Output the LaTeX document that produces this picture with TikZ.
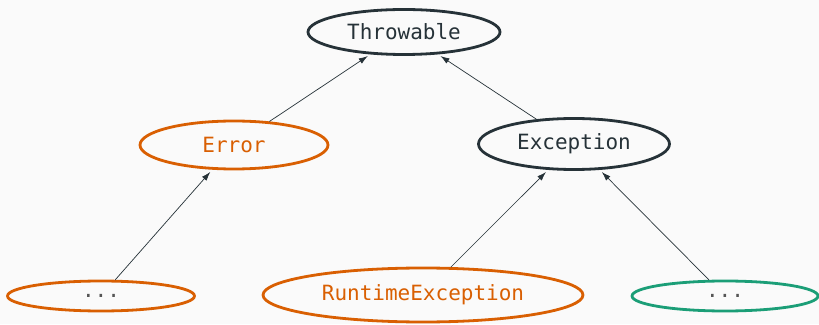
\documentclass[tikz,border=0pt]{standalone}
\usepackage{fontspec}
\setmonofont{DejaVu Sans Mono}
\usetikzlibrary{shapes.geometric,arrows.meta}
\definecolor{ink}{HTML}{263238}
\definecolor{rust}{HTML}{D95F02}
\definecolor{teal}{HTML}{1B9E77}
\definecolor{paper}{HTML}{FAFAFA}
\definecolor{dots}{HTML}{555555}

\begin{document}
\begin{tikzpicture}[x=1pt,y=1pt,line cap=round,line join=round,>={Latex[length=9pt,width=6pt]},
  cls/.style={ellipse,draw=ink,line width=2.8pt,text=ink,inner sep=0pt,font=\ttfamily\fontsize{21}{24}\selectfont},
  err/.style={cls,draw=rust,text=rust},
  other/.style={cls,draw=teal},
  link/.style={->,draw=ink,line width=0.7pt,shorten >=3pt}]
  \fill[paper] (0,0) rectangle (819,324);
  \useasboundingbox (0,0) rectangle (819,324);
  \node[cls,minimum width=192,minimum height=45] (throw) at (404,292) {Throwable};
  \node[err,minimum width=188,minimum height=48] (error) at (234,179) {Error};
  \node[cls,minimum width=191,minimum height=51] (except) at (574,180) {Exception};
  \node[err,minimum width=187,minimum height=30,text=dots] (moreerr) at (101,28) {...};
  \node[err,minimum width=320,minimum height=54] (runtime) at (423,29) {RuntimeException};
  \node[other,minimum width=186,minimum height=30,text=dots] (moreexc) at (725,28) {...};
  \draw[link] (error) -- (throw);
  \draw[link] (except) -- (throw);
  \draw[link] (moreerr) -- (error);
  \draw[link] (runtime) -- (except);
  \draw[link] (moreexc) -- (except);
\end{tikzpicture}
\end{document}
